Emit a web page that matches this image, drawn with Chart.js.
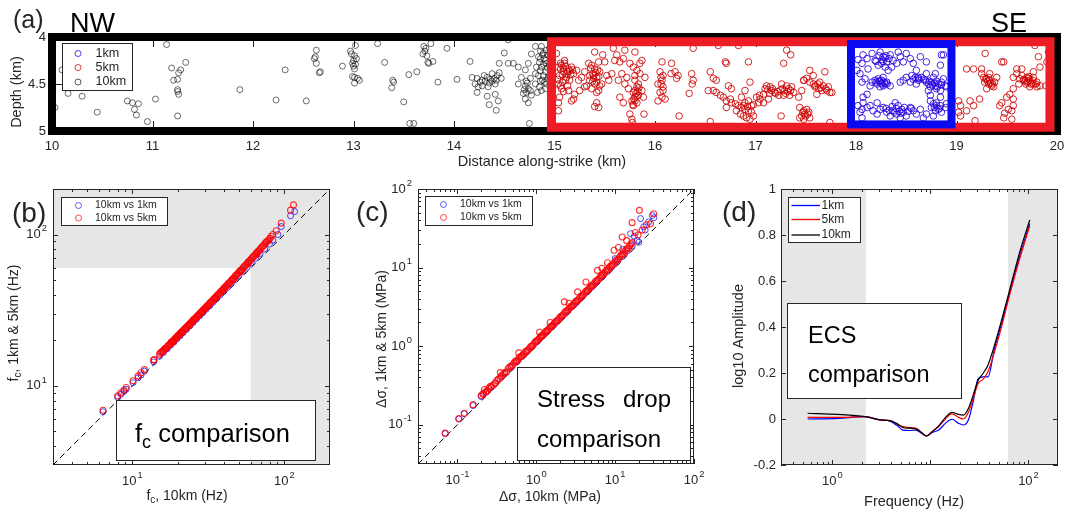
<!DOCTYPE html>
<html>
<head>
<meta charset="utf-8">
<script src="https://cdn.jsdelivr.net/npm/chart.js@4.4.0/dist/chart.umd.min.js"></script>
<style>
  body { margin: 0; background: #fff; }
  #fig { position: relative; width: 1066px; height: 515px; overflow: hidden; }
  #fig canvas { position: absolute; }
</style>
</head>
<body>
<div id="fig">
  <canvas id="panelA" width="1066" height="180" style="left:0;top:0"></canvas>
  <canvas id="panelB" width="355" height="335" style="left:0;top:180px"></canvas>
  <canvas id="panelC" width="355" height="335" style="left:355px;top:180px"></canvas>
  <canvas id="panelD" width="356" height="335" style="left:710px;top:180px"></canvas>
</div>
<script>
// ---------- (a) event locations, [distance along strike km, depth km] ----------
const events10km = [
  [10.03,4.75],[10.10,4.35],[10.16,4.60],[10.30,4.63],[10.45,4.80],[10.75,4.68],[10.80,4.70],[10.86,4.71],
  [10.82,4.77],[10.84,4.83],[10.95,4.90],[11.03,4.66],[11.14,4.08],[11.19,4.33],[11.28,4.35],[11.26,4.38],
  [11.33,4.27],[11.21,4.46],[11.25,4.45],[11.25,4.56],[11.25,4.58],[11.26,4.61],[11.25,4.84],[11.87,4.56],
  [12.23,4.67],[12.32,4.35],[12.53,4.68],[12.63,4.14],[12.62,4.21],[12.61,4.23],[12.63,4.28],[12.66,4.38],
  [12.67,4.37],[12.89,4.31],[13.02,4.09],[12.98,4.18],[13.01,4.20],[13.00,4.25],[13.02,4.29],[13.00,4.31],
  [12.99,4.42],[13.01,4.43],[13.04,4.44],[13.01,4.49],[13.06,4.46],[12.97,4.15],[13.03,4.23],[13.24,4.07],
  [13.31,4.27],[13.39,4.46],[13.40,4.48],[13.38,4.54],[13.50,4.69],[13.55,4.40],[13.63,4.37],[13.56,4.92],
  [13.60,4.92],[13.70,4.10],[13.72,4.12],[13.69,4.18],[13.74,4.27],[13.75,4.28],[13.79,4.26],[13.77,4.07],
  [13.93,4.12],[13.84,4.48],[14.03,4.45],[14.16,4.26],[14.54,4.03],
  [14.18,4.43],[14.23,4.44],[14.28,4.46],[14.33,4.43],[14.38,4.39],[14.43,4.41],[14.47,4.44],[14.41,4.50],
  [14.34,4.53],[14.24,4.53],[14.23,4.59],[14.21,4.50],[14.33,4.63],[14.41,4.61],[14.44,4.68],[14.42,4.78],
  [14.35,4.72],[14.45,4.28],[14.50,4.17],[14.54,4.28],[14.59,4.28],[14.26,4.48],[14.31,4.47],[14.36,4.45],
  [14.40,4.44],[14.45,4.38],
  [14.64,4.32],[14.71,4.35],[14.67,4.43],[14.74,4.28],[14.77,4.18],[14.81,4.10],[14.87,4.10],[14.88,4.19],
  [14.85,4.27],[14.87,4.32],[14.91,4.37],[14.84,4.41],[14.88,4.46],[14.92,4.50],[14.91,4.55],[14.85,4.53],
  [14.81,4.50],[14.71,4.52],[14.74,4.55],[14.72,4.59],[14.77,4.62],[14.71,4.66],[14.74,4.70],[14.75,4.92],
  [14.64,4.50],[14.83,4.59],[14.87,4.57],[14.81,4.39],[14.76,4.44],[14.84,4.21],[14.91,4.25],[14.92,4.14],
  [14.82,4.32],[14.95,4.30],[14.96,4.20],[14.94,4.42],[14.97,4.48],[14.93,4.33],[14.98,4.25],[14.90,4.23],
  [14.95,4.12],
  [14.86,4.15],[14.89,4.17],[14.93,4.19],[14.86,4.23],[14.89,4.29],[14.92,4.28],[14.86,4.36],[14.89,4.41],
  [14.93,4.45],[14.90,4.48],[14.86,4.47],[14.72,4.47],[14.70,4.56],[14.73,4.49],[14.69,4.60],[14.76,4.57],
  [14.30,4.41],[14.35,4.49],[14.28,4.52],[14.38,4.47],[14.42,4.46],[13.01,4.34],[12.99,4.28],[13.71,4.15],
  [13.73,4.20]
];
const events5km = [
  [15.04,4.32],[15.07,4.30],[15.10,4.28],[15.14,4.34],[15.17,4.32],[15.09,4.37],[15.05,4.41],[15.12,4.43],
  [15.15,4.46],[15.19,4.39],[15.22,4.355],[15.04,4.50],[15.07,4.55],[15.14,4.57],[15.20,4.61],[15.19,4.66],
  [15.05,4.64],[15.04,4.70],[15.17,4.68],[15.24,4.46],[15.25,4.57],[15.02,4.175],[15.10,4.25],[15.04,4.785],
  [15.12,4.39],[15.06,4.34],[15.11,4.31],[15.03,4.45],[15.16,4.40],[15.08,4.48],
  [15.06,4.28],[15.09,4.33],[15.13,4.37],[15.08,4.40],[15.15,4.36],[15.18,4.35],[15.11,4.46],[15.06,4.52],
  [15.13,4.52],[15.09,4.58],
  [15.30,4.37],[15.34,4.28],[15.37,4.30],[15.40,4.34],[15.44,4.265],[15.39,4.41],[15.42,4.43],[15.45,4.37],
  [15.35,4.46],[15.40,4.50],[15.44,4.57],[15.42,4.59],[15.47,4.50],[15.50,4.265],[15.52,4.41],[15.32,4.52],
  [15.37,4.55],[15.40,4.16],[15.48,4.19],[15.54,4.46],[15.57,4.39],[15.42,4.70],[15.44,4.75],[15.40,4.74],
  [15.27,4.43],[15.30,4.53],[15.36,4.33],[15.43,4.35],[15.38,4.47],
  [15.38,4.39],[15.41,4.38],[15.44,4.42],[15.39,4.44],[15.35,4.41],[15.42,4.48],[15.45,4.52],
  [15.585,4.12],[15.62,4.19],[15.60,4.25],[15.65,4.265],[15.70,4.14],[15.685,4.23],[15.67,4.39],[15.72,4.43],
  [15.635,4.46],[15.70,4.50],[15.735,4.55],[15.65,4.64],[15.685,4.70],[15.80,4.16],[15.75,4.28],
  [15.785,4.32],[15.82,4.355],[15.85,4.28],[15.87,4.25],[15.80,4.41],[15.835,4.50],[15.82,4.53],[15.785,4.59],
  [15.80,4.64],[15.835,4.62],[15.77,4.68],[15.82,4.70],[15.785,4.73],[15.87,4.57],[15.885,4.64],[15.75,4.82],
  [15.77,4.875],[15.775,4.91],[15.89,4.82],[15.85,4.39],[15.80,4.46],[15.90,4.43],[15.81,4.60],[15.79,4.66],
  [15.84,4.54],[15.80,4.57],[15.83,4.58],[15.82,4.63],[15.80,4.68],[15.78,4.72],
  [16.07,4.265],[16.05,4.37],[16.08,4.41],[16.07,4.46],[16.03,4.50],[16.08,4.53],[16.05,4.59],[16.07,4.64],
  [16.10,4.66],[16.03,4.68],[16.165,4.28],[16.16,4.39],[16.20,4.37],[16.215,4.44],[16.23,4.41],[16.24,4.84],
  [16.34,4.60],[16.38,4.12],[16.365,4.39],[16.38,4.46],[16.37,4.50],[16.06,4.50],[16.08,4.57],[16.06,4.43],
  [16.55,4.37],[16.58,4.44],[16.61,4.46],[16.53,4.57],[16.55,4.90],[16.63,4.09],[16.70,4.265],[16.71,4.28],
  [16.83,4.09],
  [16.58,4.57],[16.61,4.59],[16.65,4.62],[16.68,4.64],[16.71,4.68],[16.75,4.66],[16.76,4.70],[16.80,4.71],
  [16.83,4.73],[16.86,4.75],[16.895,4.77],[16.93,4.785],[16.96,4.80],[16.81,4.785],[16.85,4.82],[16.88,4.84],
  [16.91,4.86],[16.945,4.875],[16.98,4.84],[16.895,4.70],[16.86,4.64],[16.93,4.68],[16.73,4.52],[16.76,4.55],
  [16.71,4.75],[16.895,4.57],[16.96,4.73],
  [17.01,4.64],[17.045,4.66],[17.08,4.61],[17.095,4.55],[17.11,4.52],[17.145,4.53],[17.16,4.57],[17.19,4.59],
  [17.23,4.62],[17.13,4.66],[17.08,4.70],[17.03,4.70],[17.26,4.50],[17.29,4.57],[17.33,4.55],[17.36,4.53],
  [17.28,4.62],[17.34,4.62],[17.31,4.52],[17.38,4.59],[17.43,4.64],[17.48,4.46],[17.46,4.57],[16.945,4.48],
  [16.93,4.265],[17.31,4.14],[17.35,4.19],[17.28,4.28],[17.255,4.84],[17.20,4.60],[17.32,4.58],[17.25,4.56],
  [17.14,4.60],[17.12,4.56],[17.17,4.55],[17.22,4.58],[17.27,4.55],[17.30,4.60],[17.35,4.57],[17.04,4.62],
  [16.98,4.72],[16.92,4.74],[16.88,4.73],
  [17.44,4.75],[17.48,4.785],[17.46,4.84],[17.49,4.82],[17.51,4.77],[17.53,4.80],[17.48,4.875],[17.54,4.86],
  [17.44,4.86],[17.47,4.80],[17.50,4.84],[17.52,4.82],
  [17.48,4.46],[17.51,4.44],[17.54,4.48],[17.575,4.50],[17.59,4.53],[17.63,4.55],[17.66,4.57],[17.675,4.52],
  [17.71,4.57],[17.74,4.59],[17.64,4.48],[17.61,4.61],[17.69,4.37],[17.54,4.355],[17.575,4.41],[17.725,4.53],
  [17.76,4.59],[17.74,4.91],[17.60,4.52],[17.65,4.54],[17.70,4.55],[17.62,4.50],
  [19.02,4.68],[19.04,4.73],[19.02,4.80],[19.04,4.84],[19.135,4.68],[19.10,4.785],[19.17,4.73],[19.23,4.66],
  [19.185,4.89],
  [19.27,4.43],[19.30,4.445],[19.33,4.46],[19.32,4.50],[19.35,4.52],[19.28,4.48],[19.37,4.53],[19.38,4.48],
  [19.25,4.39],[19.30,4.55],[19.40,4.43],[19.33,4.39],[19.31,4.47],[19.34,4.49],[19.29,4.45],[19.36,4.50],
  [19.32,4.43],
  [19.10,4.34],[19.17,4.34],[19.45,4.265],[19.47,4.265],[19.25,4.34],[19.565,4.55],[19.53,4.61],[19.50,4.64],
  [19.565,4.66],[19.565,4.73],[19.515,4.77],[19.55,4.785],[19.47,4.86],[19.48,4.81],[19.55,4.875],[19.43,4.73],
  [19.45,4.70],[19.78,4.09],[19.815,4.21],[19.90,4.265],[19.915,4.16],[19.83,4.32],[19.89,4.52],[19.285,4.175],
  [19.565,4.43],[19.60,4.39],[19.63,4.445],[19.665,4.46],[19.70,4.48],[19.73,4.46],[19.765,4.50],[19.80,4.48],
  [19.70,4.43],[19.65,4.41],[19.62,4.50],[19.765,4.43],[19.73,4.53],[19.80,4.53],[19.83,4.52],[19.60,4.34],
  [19.65,4.34],[19.765,4.37],[19.68,4.47],[19.72,4.44],[19.75,4.49],[19.67,4.45],[19.71,4.47],[19.74,4.50],
  [19.69,4.50],[19.76,4.46],[19.79,4.50],[19.72,4.42]
];
const events1km = [
  [18.07,4.19],[18.11,4.23],[18.16,4.175],[18.19,4.25],[18.24,4.16],[18.27,4.21],[18.305,4.265],[18.34,4.19],
  [18.255,4.28],[18.29,4.32],[18.22,4.30],[18.37,4.25],[18.405,4.28],[18.44,4.21],[18.47,4.265],[18.50,4.175],
  [18.54,4.23],[18.57,4.28],[18.60,4.355],[18.64,4.21],[18.70,4.265],[18.42,4.16],[18.355,4.32],[18.32,4.355],
  [18.12,4.34],[18.06,4.28],[18.04,4.39],[18.87,4.19],[18.79,4.39],[18.62,4.46],[18.26,4.24],[18.23,4.20],
  [18.29,4.22],[18.02,4.24],[18.30,4.20],[18.33,4.23],[18.27,4.26],[18.20,4.26],
  [18.16,4.48],[18.21,4.50],[18.255,4.46],[18.29,4.50],[18.24,4.53],[18.19,4.46],[18.305,4.48],[18.22,4.445],
  [18.27,4.52],[18.34,4.52],[18.14,4.52],[18.27,4.43],[18.06,4.48],[18.09,4.445],[18.25,4.49],[18.23,4.47],
  [18.28,4.48],[18.24,4.47],[18.26,4.50],[18.20,4.48],[18.31,4.50],
  [18.47,4.46],[18.50,4.43],[18.555,4.41],[18.59,4.43],[18.62,4.445],[18.65,4.43],[18.69,4.46],[18.72,4.50],
  [18.75,4.48],[18.79,4.52],[18.82,4.50],[18.85,4.48],[18.89,4.52],[18.74,4.53],[18.77,4.43],[18.70,4.39],
  [18.60,4.50],[18.54,4.48],[18.84,4.57],[18.87,4.445],[18.90,4.53],[18.44,4.48],[18.72,4.57],[18.80,4.55],
  [18.76,4.51],[18.73,4.47],[18.81,4.53],[18.57,4.45],[18.62,4.43],[18.67,4.45],[18.70,4.48],[18.78,4.49],
  [18.80,4.47],[18.85,4.51],
  [18.02,4.73],[18.06,4.77],[18.04,4.80],[18.07,4.70],[18.11,4.75],[18.14,4.73],[18.17,4.785],[18.21,4.82],
  [18.24,4.77],[18.27,4.75],[18.305,4.80],[18.34,4.84],[18.39,4.70],[18.42,4.73],[18.455,4.77],[18.37,4.785],
  [18.405,4.82],[18.47,4.80],[18.50,4.84],[18.54,4.75],[18.57,4.785],[18.60,4.82],[18.44,4.86],[18.64,4.77],
  [18.06,4.86],[18.21,4.70],[18.40,4.76],[18.43,4.79],[18.48,4.75],[18.36,4.74],[18.30,4.76],[18.33,4.78],
  [18.38,4.80],[18.45,4.81],[18.52,4.79],[18.55,4.76],
  [18.74,4.68],[18.77,4.71],[18.80,4.70],[18.84,4.73],[18.75,4.75],[18.79,4.785],[18.82,4.77],[18.85,4.80],
  [18.89,4.75],[18.90,4.71],[18.74,4.62],[18.84,4.64],[18.77,4.84],[18.67,4.86],[18.70,4.82],[18.80,4.73],
  [18.83,4.76],[18.78,4.75],
  [18.07,4.64],[18.11,4.61],[18.84,4.30],[18.85,4.19],[18.01,4.355]
];
// catalogue windows: [distance from, distance to, depth top, depth bottom]
const window10km = [10, 20, 4, 5];
const window5km = [14.97, 19.93, 4.05, 4.96];
const window1km = [17.95, 18.95, 4.075, 4.93];
const distTicks = [10, 11, 12, 13, 14, 15, 16, 17, 18, 19, 20];
const distTickLabels = ['10', '11', '12', '13', '14', '15', '16', '17', '18', '19', '20'];
const depthTicks = [4, 4.5, 5];
const depthTickLabels = ['4', '4.5', '5'];

// ---------- (b) corner frequency, [10km fc, 1km/5km fc] in Hz ----------
const fc10vs1 = [
  [6.4,6.75],[8.0,8.4],[8.4,8.8],[8.8,9.2],[9.1,9.5],[10.1,10.5],[10.9,11.3],[11.4,11.8],[12.0,12.5],[13.8,14.4],
  [15.1,15.7],[16.0,16.6],[17.0,17.6],[17.9,18.6],[18.8,19.5],[19.7,20.5],[20.6,21.4],[21.6,22.5],[22.7,23.6],
  [23.9,24.9],[25.1,26.2],[26.4,27.6],[27.7,29.0],[29.1,30.5],[30.6,32.1],[32.2,33.8],[33.9,35.6],[35.7,37.6],
  [37.7,39.7],[39.8,42.0],[42.1,44.5],[44.6,47.2],[47.3,50.2],[50.2,53.4],[53.4,57.0],[56.9,60.9],[60.7,65.1],
  [64.8,69.8],[69.3,75.0],[74.3,80.6],[79.8,86.5],[84.0,92.0],[90.8,100],[95.5,113],[110,133],[117,142]
];
const fc10vs5 = [
  [6.4,6.9],[8.0,8.6],[8.4,9.0],[8.8,9.4],[9.1,9.75],[10.1,10.8],[10.9,11.6],[11.4,12.2],[12.0,12.8],[13.8,14.8],
  [13.9,14.9],[15.1,16.2],[15.6,16.7],[16.0,17.1],[16.5,17.7],[17.0,18.2],[17.4,18.6],[17.9,19.2],[18.3,19.6],
  [18.8,20.1],[19.2,20.6],[19.7,21.1],[20.1,21.6],[20.6,22.1],[21.1,22.7],[21.6,23.2],[22.2,23.9],[22.7,24.4],
  [23.3,25.1],[23.9,25.7],[24.5,26.4],[25.1,27.1],[25.7,27.7],[26.4,28.5],[27.0,29.2],[27.7,30.0],[28.4,30.7],
  [29.1,31.5],[29.8,32.3],[30.6,33.2],[31.4,34.1],[32.2,35.0],[33.0,35.9],[33.9,36.9],[34.8,37.9],[35.7,39.0],
  [36.7,40.1],[37.7,41.3],[38.7,42.5],[39.8,43.8],[40.9,45.1],[42.1,46.5],[43.3,47.9],[44.6,49.4],[45.9,51.0],
  [47.3,52.7],[48.7,54.4],[50.2,56.2],[51.8,58.1],[53.4,60.1],[55.1,62.2],[56.9,64.4],[58.8,66.8],[60.7,69.2],
  [62.7,71.7],[64.8,74.4],[67.0,77.2],[69.3,80.2],[71.8,83.3],[74.3,86.6],[76.5,89.5],[78.0,91.0],[80.5,94.5],
  [84.0,100],[88.5,106],[95.5,119],[110,145],[115,157],
  [18.5,19.5],[21.0,22.3],[24.0,25.4],[27.5,29.3],[31.0,33.2],[35.0,37.7],[40.0,43.4],[46.0,50.3],[52.0,57.3],
  [58.0,64.5],[66.0,74.5],
  [15.35,16.6],[15.8,16.9],[16.25,17.5],[16.75,17.8],[17.2,18.5],[17.65,18.8],[18.05,19.5],[18.55,19.8],
  [19.0,20.4],[19.45,20.8],[19.9,21.4],[20.35,21.8],[20.85,22.5],[21.35,22.9],[21.9,23.6],[22.45,24.0],
  [23.0,24.8],[23.6,25.3],[24.2,26.1],[24.8,26.6],[25.4,27.5],[26.0,28.0],[26.7,28.9],[27.35,29.5],
  [28.05,30.4],[28.75,31.0],[29.45,32.0],[30.2,32.6],[31.0,33.7],[31.8,34.4],[32.6,35.6],[33.45,36.2],
  [34.35,37.5],[35.25,38.3],[36.2,39.7],[37.2,40.5],[38.2,42.0],[39.25,42.9],[40.35,44.5],[41.5,45.5],
  [42.7,47.3],[43.95,48.4],[45.25,50.3],[46.6,51.5],[48.0,53.7],[49.45,55.0],[51.0,57.3],[52.6,58.8],
  [54.25,61.3],[56.0,62.9],[57.85,65.8],[59.75,67.5],[61.7,70.6],[63.75,72.5],[65.9,76.0],[68.15,78.0],
  [70.55,82.0],[73.0,84.5],[75.5,88.5],[79.2,92.5],[82.0,97.0]
];
const fcRange = [3, 200];
const fcLimit = 60;
const fcTicks = [10, 100];
const fcTickLabels = ['10^1', '10^2'];

// ---------- (c) stress drop, [10km, 1km/5km] in MPa ----------
const sd10vs1 = [
  [0.07,0.077],[0.104,0.118],[0.122,0.138],[0.158,0.175],[0.2,0.228],[0.23,0.258],[0.27,0.3],[0.3,0.335],
  [0.36,0.405],[0.4,0.45],[0.48,0.54],[0.56,0.63],[0.65,0.73],[0.76,0.85],[0.88,0.99],[1.02,1.14],[1.18,1.32],
  [1.37,1.53],[1.58,1.76],[1.83,2.04],[2.12,2.36],[2.45,2.73],[2.84,3.17],[3.28,3.66],[3.8,4.24],[4.4,4.91],
  [5.09,5.68],[5.9,6.6],[6.83,7.65],[7.9,8.85],[9.15,10.3],[10.6,11.9],[12.3,13.9],[14.2,16.2],[16.5,19.0],
  [19,22.2],[20,21],[21,42],[26.6,38],[15.7,27],[29.6,46],[31,43],[23,33],[12.5,17],[17.5,25],[10,13],[24,30]
];
const sd10vs5 = [
  [0.07,0.078],[0.104,0.12],[0.122,0.14],[0.158,0.18],[0.2,0.235],[0.21,0.245],[0.23,0.265],[0.25,0.29],
  [0.27,0.31],[0.3,0.34],[0.33,0.38],[0.36,0.42],[0.4,0.46],[0.44,0.52],[0.48,0.56],[0.52,0.61],[0.56,0.65],
  [0.6,0.7],[0.65,0.75],[0.7,0.8],[0.76,0.87],[0.82,0.94],[0.88,1.0],[0.95,1.1],[1.02,1.18],[1.1,1.27],
  [1.18,1.36],[1.27,1.46],[1.37,1.57],[1.47,1.69],[1.58,1.82],[1.7,1.96],[1.83,2.1],[1.97,2.27],[2.12,2.44],
  [2.28,2.63],[2.45,2.82],[2.64,3.04],[2.84,3.27],[3.05,3.52],[3.28,3.78],[3.53,4.07],[3.8,4.38],[4.09,4.72],
  [4.4,5.08],[4.73,5.47],[5.09,5.89],[5.48,6.35],[5.9,6.85],[6.35,7.4],[6.83,8.0],[7.35,8.6],[7.9,9.3],
  [8.5,10.0],[9.15,10.8],[9.85,11.7],[10.6,12.6],[11.4,13.6],[12.3,14.8],[13.2,16.0],[14.2,17.4],[15.3,19.0],
  [16.5,20.8],
  [20.3,53.5],[30.8,48.5],[16.4,37.3],[12.3,24.5],[9.7,16.6],[5.97,9.2],[4.26,6.56],[3.34,4.9],[2.27,3.66],
  [18,28],[25,35],[22,30],[14,22],[8,11.5],[6.8,9.8],[1.5,2.0],[2.6,3.5],[1.1,1.5],[0.6,0.82],[0.35,0.46],
  [0.22,0.28],[11,18],[19.5,26],[28,36],
  [0.215,0.25],[0.24,0.27],[0.26,0.305],[0.285,0.32],[0.315,0.365],[0.345,0.39],[0.38,0.44],[0.42,0.47],
  [0.46,0.54],[0.5,0.57],[0.54,0.635],[0.58,0.66],[0.625,0.73],[0.675,0.77],[0.73,0.85],[0.79,0.9],
  [0.85,0.99],[0.915,1.04],[0.985,1.15],[1.06,1.21],[1.14,1.33],[1.22,1.39],[1.32,1.54],[1.42,1.62],
  [1.52,1.78],[1.64,1.87],[1.76,2.06],[1.9,2.17],[2.05,2.4],[2.2,2.51],[2.36,2.77],[2.55,2.91],[2.74,3.21],
  [2.95,3.37],[3.16,3.72],[3.4,3.89],[3.66,4.31],[3.95,4.52],[4.25,5.0],[4.56,5.22],[4.9,5.8],[5.28,6.05],
  [5.68,6.72],[6.12,7.05],[6.6,7.85],[7.1,8.2],[7.62,9.1],[8.2,9.45],[8.8,10.5],[9.5,11.0],[10.2,12.3],
  [11.0,12.8],[11.85,14.4],[12.75,15.0],[13.7,16.8],[14.75,17.6],[15.9,20.0]
];
const sdRange = [0.0316, 100];
const sdTicks = [0.1, 1, 10, 100];
const sdTickLabels = ['10^-1', '10^0', '10^1', '10^2'];

// ---------- (d) empirical correction spectra ----------
const ecsFreq = [0.56, 1.13, 2.17, 3.07, 3.86, 4.5, 5.25, 6.1, 7.1, 8.3, 9.1, 10.5, 12.2, 14.2, 16.6, 19.4,
  21.7, 24.4, 27.3, 30.7, 34.4, 38.6, 45, 52.5, 66, 83, 103];
const ecs1km = [0.0, 0.003, 0.01, -0.004, -0.009, -0.026, -0.048, -0.05, -0.048, -0.065, -0.074, -0.058, -0.048,
  -0.019, -0.001, -0.019, -0.026, -0.004, 0.075, 0.175, 0.183, 0.183, 0.306, 0.407, 0.566, 0.72, 0.85];
const ecs5km = [0.007, 0.007, 0.01, -0.004, -0.007, -0.019, -0.033, -0.037, -0.039, -0.062, -0.074, -0.053, -0.033,
  0.0, 0.022, 0.007, 0.0, 0.029, 0.089, 0.154, 0.173, 0.205, 0.291, 0.392, 0.558, 0.709, 0.84];
const ecs10km = [0.025, 0.02, 0.01, -0.004, -0.007, -0.019, -0.037, -0.04, -0.043, -0.062, -0.074, -0.055, -0.029,
  0.006, 0.029, 0.02, 0.017, 0.046, 0.104, 0.169, 0.198, 0.234, 0.32, 0.421, 0.58, 0.738, 0.865];
const freqRange = [0.34, 200];
const ampRange = [-0.2, 1];
const ecsBand = [2.2, 62];   // frequencies outside this band are shaded
const freqTicks = [1, 10, 100];
const freqTickLabels = ['10^0', '', '10^2'];
const ampTicks = [-0.2, 0, 0.2, 0.4, 0.6, 0.8, 1];
const ampTickLabels = ['-0.2', '0', '0.2', '0.4', '0.6', '0.8', '1'];

// ---------- drawing helpers ----------
const FONT = '"Liberation Sans", Arial, Helvetica, sans-serif';
const INK = '#262626';
const SHADE = '#e6e6e6';

function setFont(ctx, size) { ctx.font = size + 'px ' + FONT; }

// tick label, "10^2" gets a raised exponent
function powText(ctx, text, x, y, align, size) {
  if (!text) return;
  const parts = text.split('^');
  const es = size * 0.72;
  setFont(ctx, size);
  const bw = ctx.measureText(parts[0]).width;
  let ew = 0;
  if (parts.length > 1) { setFont(ctx, es); ew = ctx.measureText(parts[1]).width + 1; }
  let x0 = x;
  if (align === 'right') x0 = x - bw - ew;
  else if (align === 'center') x0 = x - (bw + ew) / 2;
  ctx.textAlign = 'left';
  ctx.textBaseline = 'middle';
  setFont(ctx, size);
  ctx.fillText(parts[0], x0, y);
  if (parts.length > 1) {
    setFont(ctx, es);
    ctx.fillText(parts[1], x0 + bw + 1, y - size * 0.45);
  }
}

// text made of runs [text, size, dy]
function drawRuns(ctx, runs, x, y, opts) {
  opts = opts || {};
  let w = 0;
  runs.forEach(r => { setFont(ctx, r[1]); w += ctx.measureText(r[0]).width; });
  ctx.save();
  ctx.translate(x, y);
  if (opts.rotate) ctx.rotate(-Math.PI / 2);
  ctx.fillStyle = opts.color || INK;
  ctx.textAlign = 'left';
  ctx.textBaseline = opts.baseline || 'middle';
  let cx = opts.align === 'left' ? 0 : -w / 2;
  runs.forEach(r => {
    setFont(ctx, r[1]);
    ctx.fillText(r[0], cx, r[2] || 0);
    cx += ctx.measureText(r[0]).width;
  });
  ctx.restore();
}

function logMinor(min, max) {
  const out = [];
  for (let e = Math.floor(Math.log10(min)); e <= Math.ceil(Math.log10(max)); e++) {
    for (let m = 2; m <= 9; m++) {
      const v = m * Math.pow(10, e);
      if (v > min && v < max) out.push(v);
    }
  }
  return out;
}

// inward ticks on all four sides, MATLAB style
function drawTicks(chart, o) {
  const { ctx, chartArea: a, scales: { x, y } } = chart;
  ctx.save();
  ctx.strokeStyle = INK;
  ctx.lineWidth = 1;
  ctx.beginPath();
  const tx = (v, len) => {
    const p = Math.round(x.getPixelForValue(v)) + 0.5;
    ctx.moveTo(p, a.bottom); ctx.lineTo(p, a.bottom - len);
    ctx.moveTo(p, a.top); ctx.lineTo(p, a.top + len);
  };
  const ty = (v, len) => {
    const p = Math.round(y.getPixelForValue(v)) + 0.5;
    ctx.moveTo(a.left, p); ctx.lineTo(a.left + len, p);
    ctx.moveTo(a.right, p); ctx.lineTo(a.right - len, p);
  };
  o.xTicks.forEach(v => tx(v, o.major));
  o.yTicks.forEach(v => ty(v, o.major));
  (o.xMinor || []).forEach(v => tx(v, o.minor));
  (o.yMinor || []).forEach(v => ty(v, o.minor));
  ctx.stroke();
  if (o.box) ctx.strokeRect(Math.round(a.left) + 0.5, Math.round(a.top) + 0.5, Math.round(a.width) - 1, Math.round(a.height) - 1);
  ctx.restore();
}

function drawTickLabels(chart, o) {
  const { ctx, chartArea: a, scales: { x, y } } = chart;
  ctx.save();
  ctx.fillStyle = INK;
  o.xTicks.forEach((v, i) => powText(ctx, o.xLabels[i], x.getPixelForValue(v), a.bottom + o.xGap, 'center', o.size));
  o.yTicks.forEach((v, i) => powText(ctx, o.yLabels[i], a.left - o.yGap, y.getPixelForValue(v), 'right', o.size));
  ctx.restore();
}

function drawLegend(ctx, box, rows, markX, textX, size, kind) {
  ctx.save();
  ctx.fillStyle = '#fff';
  ctx.fillRect(box[0], box[1], box[2] - box[0], box[3] - box[1]);
  ctx.strokeStyle = INK;
  ctx.lineWidth = 1;
  ctx.strokeRect(box[0] + 0.5, box[1] + 0.5, box[2] - box[0] - 1, box[3] - box[1] - 1);
  rows.forEach(r => {
    ctx.strokeStyle = r.color;
    ctx.beginPath();
    if (kind === 'line') {
      ctx.lineWidth = 1.3;
      ctx.moveTo(markX[0], r.y); ctx.lineTo(markX[1], r.y);
    } else {
      ctx.lineWidth = 0.9;
      ctx.arc(markX, r.y, 3, 0, Math.PI * 2);
    }
    ctx.stroke();
    ctx.fillStyle = INK;
    setFont(ctx, size);
    ctx.textAlign = 'left';
    ctx.textBaseline = 'middle';
    ctx.fillText(r.label, textX, r.y);
  });
  ctx.restore();
}

function drawTextBox(ctx, box) {
  ctx.save();
  ctx.fillStyle = '#fff';
  ctx.fillRect(box[0], box[1], box[2] - box[0], box[3] - box[1]);
  ctx.strokeStyle = INK;
  ctx.lineWidth = 1;
  ctx.strokeRect(box[0] + 0.5, box[1] + 0.5, box[2] - box[0] - 1, box[3] - box[1] - 1);
  ctx.restore();
}

const toXY = pts => pts.map(p => ({ x: p[0], y: p[1] }));

function scatterSet(label, pts, color, order, width, radius) {
  return {
    label, data: toXY(pts), order,
    showLine: false,
    pointStyle: 'circle', pointRadius: radius || 3, pointBorderWidth: width,
    pointBackgroundColor: 'rgba(0,0,0,0)', pointBorderColor: color,
    borderColor: color, backgroundColor: 'rgba(0,0,0,0)'
  };
}

function baseOptions(padding, xScale, yScale) {
  return {
    responsive: false,
    animation: false,
    events: [],
    layout: { padding },
    plugins: { legend: { display: false }, tooltip: { enabled: false }, title: { display: false } },
    scales: {
      x: Object.assign({ display: false }, xScale),
      y: Object.assign({ display: false }, yScale)
    }
  };
}

// ---------- (a) depth section ----------
const colA = { k10: 'rgba(0,0,0,0.72)', k5: 'rgba(205,0,0,0.85)', k1: 'rgba(35,0,225,0.85)' };
new Chart(document.getElementById('panelA'), {
  type: 'scatter',
  data: {
    datasets: [
      scatterSet('1km', events1km, colA.k1, 0, 1, 3.3),
      scatterSet('5km', events5km, colA.k5, 1, 1, 3.3),
      scatterSet('10km', events10km, colA.k10, 2, 0.8, 3)
    ]
  },
  options: baseOptions({ left: 52, right: 9, top: 37, bottom: 49 },
    { type: 'linear', min: distTicks[0], max: distTicks[distTicks.length - 1] },
    { type: 'linear', min: depthTicks[0], max: depthTicks[depthTicks.length - 1], reverse: true }),
  plugins: [{
    id: 'depthSection',
    beforeDatasetsDraw(chart) {
      drawTicks(chart, { xTicks: distTicks, yTicks: depthTicks, major: 10, minor: 0, box: false });
    },
    afterDatasetsDraw(chart) {
      const { ctx, scales: { x, y } } = chart;
      // catalogue windows
      [[window10km, '#000', 8], [window5km, '#ee1c24', 9], [window1km, '#0a0af0', 8]].forEach(w => {
        const r = w[0];
        const x0 = x.getPixelForValue(r[0]), x1 = x.getPixelForValue(r[1]);
        const y0 = y.getPixelForValue(r[2]), y1 = y.getPixelForValue(r[3]);
        ctx.save();
        ctx.strokeStyle = w[1];
        ctx.lineWidth = w[2];
        ctx.strokeRect(x0, y0, x1 - x0, y1 - y0);
        ctx.restore();
      });
      drawTickLabels(chart, { xTicks: distTicks, xLabels: distTickLabels, yTicks: depthTicks,
        yLabels: depthTickLabels, xGap: 15, yGap: 6, size: 13 });
      drawRuns(ctx, [['Distance along-strike (km)', 14.5]], 542, 162);
      drawRuns(ctx, [['Depth (km)', 14.5]], 17, 92, { rotate: true });
      drawRuns(ctx, [['(a)', 25]], 13, 27.5, { align: 'left', baseline: 'alphabetic' });
      drawRuns(ctx, [['NW', 27]], 70, 31.5, { align: 'left', baseline: 'alphabetic', color: '#000' });
      drawRuns(ctx, [['SE', 27]], 991, 31.5, { align: 'left', baseline: 'alphabetic', color: '#000' });
      const ds = chart.data.datasets;
      drawLegend(ctx, [62, 43, 133, 91], [
        { label: ds[0].label, color: colA.k1, y: 53.5 },
        { label: ds[1].label, color: colA.k5, y: 67.5 },
        { label: ds[2].label, color: colA.k10, y: 82 }
      ], 78, 95.5, 12.5, 'circle');
    }
  }]
});

// ---------- (b) and (c) log-log comparisons ----------
const colB = { k1: 'rgba(0,0,255,0.7)', k5: 'rgba(255,0,0,0.8)' };

function oneToOne(range) {
  return {
    label: '1:1', order: 3, showLine: true,
    data: [{ x: range[0], y: range[0] }, { x: range[1], y: range[1] }],
    borderColor: '#000', borderWidth: 1, borderDash: [6, 4], pointRadius: 0
  };
}

new Chart(document.getElementById('panelB'), {
  type: 'scatter',
  data: {
    datasets: [
      scatterSet('10km vs 1km', fc10vs1, colB.k1, 2, 1),
      scatterSet('10km vs 5km', fc10vs5, colB.k5, 1, 1.1),
      oneToOne(fcRange)
    ]
  },
  options: baseOptions({ left: 53, right: 25, top: 9, bottom: 50 },
    { type: 'logarithmic', min: fcRange[0], max: fcRange[1] },
    { type: 'logarithmic', min: fcRange[0], max: fcRange[1] }),
  plugins: [{
    id: 'fcCompare',
    beforeDatasetsDraw(chart) {
      const { ctx, chartArea: a, scales: { x, y } } = chart;
      const xl = x.getPixelForValue(fcLimit), yl = y.getPixelForValue(fcLimit);
      ctx.save();
      ctx.fillStyle = SHADE;
      ctx.fillRect(a.left, a.top, a.width, a.height);
      ctx.fillStyle = '#fff';
      ctx.fillRect(a.left, yl, xl - a.left, a.bottom - yl);
      ctx.restore();
      drawTicks(chart, { xTicks: fcTicks, yTicks: fcTicks, xMinor: logMinor(fcRange[0], fcRange[1]),
        yMinor: logMinor(fcRange[0], fcRange[1]), major: 5, minor: 3, box: true });
    },
    afterDatasetsDraw(chart) {
      const { ctx } = chart;
      drawTickLabels(chart, { xTicks: fcTicks, xLabels: fcTickLabels, yTicks: fcTicks, yLabels: fcTickLabels,
        xGap: 16, yGap: 6, size: 13 });
      drawRuns(ctx, [['f', 14], ['c', 10, 4], [', 10km (Hz)', 14]], 187, 316);
      drawRuns(ctx, [['f', 14], ['c', 10, 4], [', 1km & 5km (Hz)', 14]], 14, 143, { rotate: true });
      drawRuns(ctx, [['(b)', 28]], 12, 42, { align: 'left', baseline: 'alphabetic' });
      const ds = chart.data.datasets;
      drawLegend(ctx, [61, 17, 168, 46], [
        { label: ds[0].label, color: colB.k1, y: 25.5 },
        { label: ds[1].label, color: colB.k5, y: 38 }
      ], 78.5, 95, 10.5, 'circle');
      drawTextBox(ctx, [116, 220, 316, 281]);
      drawRuns(ctx, [['f', 25.5], ['c', 18, 6], [' comparison', 25.5]], 135, 262,
        { align: 'left', baseline: 'alphabetic', color: '#000' });
    }
  }]
});

new Chart(document.getElementById('panelC'), {
  type: 'scatter',
  data: {
    datasets: [
      scatterSet('10km vs 1km', sd10vs1, colB.k1, 2, 1),
      scatterSet('10km vs 5km', sd10vs5, colB.k5, 1, 1.1),
      oneToOne(sdRange)
    ]
  },
  options: baseOptions({ left: 63, right: 16, top: 9, bottom: 51 },
    { type: 'logarithmic', min: sdRange[0], max: sdRange[1] },
    { type: 'logarithmic', min: sdRange[0], max: sdRange[1] }),
  plugins: [{
    id: 'sdCompare',
    beforeDatasetsDraw(chart) {
      drawTicks(chart, { xTicks: sdTicks, yTicks: sdTicks, xMinor: logMinor(sdRange[0], sdRange[1]),
        yMinor: logMinor(sdRange[0], sdRange[1]), major: 5, minor: 3, box: true });
    },
    afterDatasetsDraw(chart) {
      const { ctx } = chart;
      drawTickLabels(chart, { xTicks: sdTicks, xLabels: sdTickLabels, yTicks: sdTicks, yLabels: sdTickLabels,
        xGap: 16, yGap: 6, size: 13 });
      drawRuns(ctx, [['\u0394\u03c3, 10km (MPa)', 14]], 195, 317);
      drawRuns(ctx, [['\u0394\u03c3, 1km & 5km (MPa)', 14]], 27, 159, { rotate: true });
      drawRuns(ctx, [['(c)', 28]], 1, 41, { align: 'left', baseline: 'alphabetic' });
      const ds = chart.data.datasets;
      drawLegend(ctx, [70, 16, 178, 46], [
        { label: ds[0].label, color: colB.k1, y: 24.5 },
        { label: ds[1].label, color: colB.k5, y: 37.5 }
      ], 88.5, 105, 10.5, 'circle');
      drawTextBox(ctx, [162, 187, 336, 281]);
      drawRuns(ctx, [['Stress', 24]], 182, 227, { align: 'left', baseline: 'alphabetic', color: '#000' });
      drawRuns(ctx, [['drop', 24]], 268, 227, { align: 'left', baseline: 'alphabetic', color: '#000' });
      drawRuns(ctx, [['comparison', 24]], 182, 267, { align: 'left', baseline: 'alphabetic', color: '#000' });
    }
  }]
});

// ---------- (d) ECS spectra ----------
function spectrumSet(label, amps, color, order) {
  return {
    label, order,
    data: ecsFreq.map((f, i) => ({ x: f, y: amps[i] })),
    borderColor: color, borderWidth: 1.2, pointRadius: 0,
    cubicInterpolationMode: 'monotone', fill: false
  };
}

new Chart(document.getElementById('panelD'), {
  type: 'line',
  data: {
    datasets: [
      spectrumSet('1km', ecs1km, '#0000ff', 2),
      spectrumSet('5km', ecs5km, '#ff0000', 1),
      spectrumSet('10km', ecs10km, '#000000', 0)
    ]
  },
  options: baseOptions({ left: 71, right: 8, top: 9, bottom: 50 },
    { type: 'logarithmic', min: freqRange[0], max: freqRange[1] },
    { type: 'linear', min: ampRange[0], max: ampRange[1] }),
  plugins: [{
    id: 'ecsCompare',
    beforeDatasetsDraw(chart) {
      const { ctx, chartArea: a, scales: { x } } = chart;
      const x0 = x.getPixelForValue(ecsBand[0]), x1 = x.getPixelForValue(ecsBand[1]);
      ctx.save();
      ctx.fillStyle = SHADE;
      ctx.fillRect(a.left, a.top, x0 - a.left, a.height);
      ctx.fillRect(x1, a.top, a.right - x1, a.height);
      ctx.restore();
      drawTicks(chart, { xTicks: freqTicks, yTicks: ampTicks, xMinor: logMinor(freqRange[0], freqRange[1]),
        major: 5, minor: 3, box: true });
    },
    afterDatasetsDraw(chart) {
      const { ctx } = chart;
      drawTickLabels(chart, { xTicks: freqTicks, xLabels: freqTickLabels, yTicks: ampTicks, yLabels: ampTickLabels,
        xGap: 16, yGap: 5, size: 13 });
      drawRuns(ctx, [['Frequency (Hz)', 14.5]], 204, 322);
      drawRuns(ctx, [['log10 Amplitude', 14.5]], 29, 156, { rotate: true });
      drawRuns(ctx, [['(d)', 28]], 12, 41, { align: 'left', baseline: 'alphabetic' });
      const ds = chart.data.datasets;
      drawLegend(ctx, [78, 17, 151, 63], [
        { label: ds[0].label, color: '#0000ff', y: 25.5 },
        { label: ds[1].label, color: '#ff0000', y: 39.5 },
        { label: ds[2].label, color: '#000000', y: 55 }
      ], [81.5, 110], 111.5, 12, 'line');
      drawTextBox(ctx, [77, 123, 252, 219]);
      drawRuns(ctx, [['ECS', 23.5]], 98, 163, { align: 'left', baseline: 'alphabetic', color: '#000' });
      drawRuns(ctx, [['comparison', 23.5]], 98, 202, { align: 'left', baseline: 'alphabetic', color: '#000' });
    }
  }]
});
</script>
</body>
</html>
